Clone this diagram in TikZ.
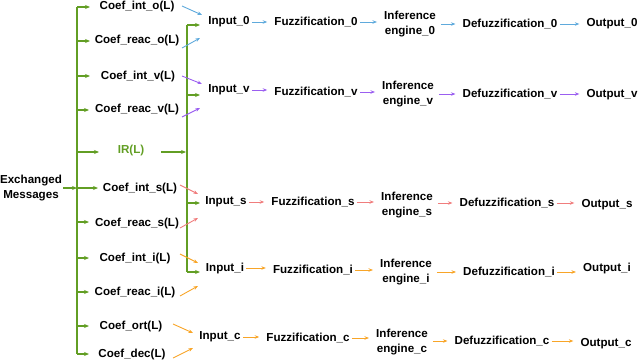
\documentclass[tikz,border=0pt]{standalone}
\usepackage{fontspec}
\setmainfont{Liberation Sans}
\usetikzlibrary{arrows.meta,calc}
\definecolor{cgreen}{RGB}{98,158,36}
\definecolor{cblue}{RGB}{95,170,220}
\definecolor{cpurple}{RGB}{155,95,240}
\definecolor{cpink}{RGB}{240,125,125}
\definecolor{corange}{RGB}{248,165,40}
\begin{document}
\begin{tikzpicture}[x=1pt,y=-1pt,
  lbl/.style={font=\bfseries\fontsize{11.6}{15.5}\selectfont, inner sep=1pt, align=center},
  gline/.style={draw=cgreen, line width=1.5pt},
  garr/.style={draw=cgreen, line width=1.5pt, -{Stealth[length=5pt,width=4pt]}},
  carr/.style={line width=0.9pt, -{Stealth[length=4.5pt,width=3.5pt]}},
  parr/.style={carr, shorten <=1pt, shorten >=6pt},
]
\useasboundingbox (0,0) rectangle (640,364);

% left column labels
\node[lbl] (em) at (31,188) {Exchanged\\Messages};
\node[lbl] (cio) at (137,7) {Coef\_int\_o(L)};
\node[lbl] (cro) at (137,41) {Coef\_reac\_o(L)};
\node[lbl] (civ) at (138,76) {Coef\_int\_v(L)};
\node[lbl] (crv) at (137,110) {Coef\_reac\_v(L)};
\node[lbl, text=cgreen] (ir) at (131,150) {IR(L)};
\node[lbl] (cis) at (140,188) {Coef\_int\_s(L)};
\node[lbl] (crs) at (137,223) {Coef\_reac\_s(L)};
\node[lbl] (cii) at (135,258) {Coef\_int\_i(L)};
\node[lbl] (cri) at (135,292) {Coef\_reac\_i(L)};
\node[lbl] (cor) at (131,326) {Coef\_ort(L)};
\node[lbl] (cde) at (132,354) {Coef\_dec(L)};

% left bus
\coordinate (lbTop) at (77,7);
\coordinate (lbBot) at (77,354);
\draw[gline] (lbTop) -- (lbBot);
\foreach \y/\e in {7/90,41/90,76/90,110/89,152/99,188/98,222/89,258/89,292/89,326/89,354/89}{
  \coordinate (la\y) at (77,\y);
  \coordinate (lb\y) at (\e,\y);
  \draw[garr] (la\y) -- (lb\y);
}
\coordinate (emEnd) at (77,188);
\draw[garr] (em.east |- emEnd) -- (emEnd);

% right bus
\coordinate (rbTop) at (187,25);
\coordinate (rbBot) at (187,272);
\draw[gline] (rbTop) -- (rbBot);
\coordinate (irStart) at (161,152);
\coordinate (irEnd) at (186,152);
\draw[garr] (irStart) -- (irEnd);
\foreach \y in {25,95,203,272}{
  \coordinate (ra\y) at (187,\y);
  \coordinate (rb\y) at (200,\y);
  \draw[garr] (ra\y) -- (rb\y);
}

% pipeline rows
\foreach \r/\cl/\a/\b/\c/\d/\e/\ya/\yb/\yc/\yd/\ye in {
  0/cblue/229/316/410/510/612/22/22/24/24/24,
  v/cpurple/229/316/408/510/612/90/92/94/94/95,
  s/cpink/226/313/407/507/607/202/202/205/203/205,
  i/corange/225/313/406/509/607/268/270/272/272/268,
  c/corange/220/308/402/502/606/337/338/342/341/344}{
  \node[lbl] (in\r) at (\a,\ya) {Input\_\r};
  \node[lbl] (fz\r) at (\b,\yb) {Fuzzification\_\r};
  \node[lbl] (ie\r) at (\c,\yc) {Inference\\engine\_\r};
  \node[lbl] (df\r) at (\d,\yd) {Defuzzification\_\r};
  \node[lbl] (out\r) at (\e,\ye) {Output\_\r};
  \draw[parr, draw=\cl] (in\r.east) -- (in\r.east -| fz\r.west);
  \draw[parr, draw=\cl] (fz\r.east) -- (fz\r.east -| ie\r.west);
  \draw[parr, draw=\cl] ([xshift=3pt]ie\r.east |- df\r.west) -- (df\r.west);
  \draw[parr, draw=\cl] (df\r.east) -- (df\r.east -| out\r.west);
}

% coefficient to input arrows
\foreach \n/\cl/\xa/\ya/\xb/\yb in {
  cio/cblue/182/6/202/15, cro/cblue/182/48/200/38,
  civ/cpurple/182/76/202/84, crv/cpurple/182/117/200/108,
  cis/cpink/180/185/198/194, crs/cpink/180/228/198/218,
  cii/corange/180/254/198/263, cri/corange/180/296/198/286,
  cor/corange/173/324/193/333, cde/corange/173/358/193/348}{
  \coordinate (\n s) at (\xa,\ya);
  \coordinate (\n t) at (\xb,\yb);
  \draw[carr, draw=\cl] (\n s) -- (\n t);
}
\end{tikzpicture}
\end{document}
